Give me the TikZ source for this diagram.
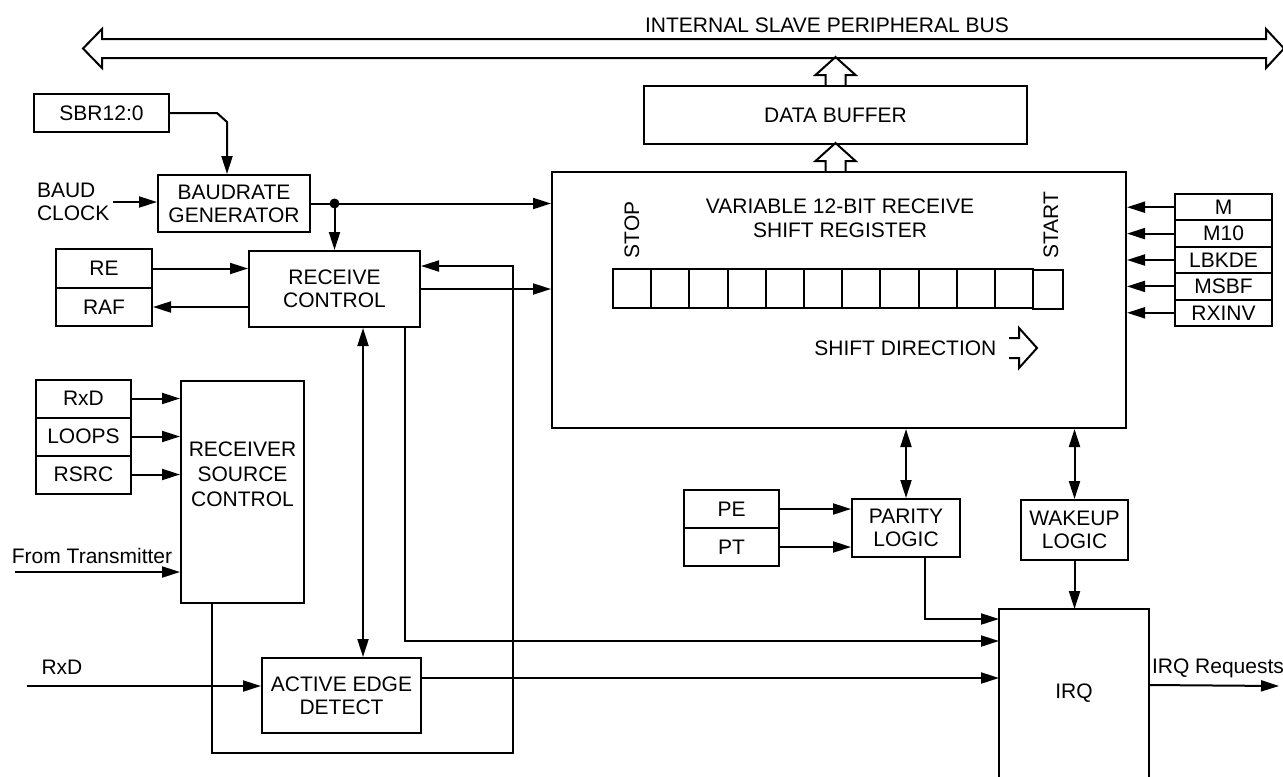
\documentclass[tikz,border=0pt]{standalone}
\usepackage{fontspec}
\setmainfont{Liberation Sans}
\usetikzlibrary{arrows.meta, positioning, calc}

\begin{document}
\begin{tikzpicture}[x=0.5pt, y=-0.5pt, line width=1pt,
    font=\fontsize{10.5}{11.5}\selectfont,
    blk/.style={draw, rectangle, inner sep=0pt, align=center},
    sig/.style={-{Triangle[length=9pt, width=5.5pt]}},
    bidir/.style={{Triangle[length=9pt, width=5.5pt]}-{Triangle[length=9pt, width=5.5pt]}},
    lbl/.style={inner sep=1.5pt, align=left}]
  \useasboundingbox (0,0) rectangle (1283,776);
  \draw (83,48.5) -- (102,29) -- (102,39) -- (1266,39) -- (1266,29) -- (1284,48.5)
    -- (1266,68) -- (1266,58) -- (102,58) -- (102,68) -- cycle;
  \node (buslbl) at (827,25) {INTERNAL SLAVE PERIPHERAL BUS};
  \node[blk, minimum width=67.5pt, minimum height=19pt] (sbr) at (101.5,113) {SBR12:0};
  \node[blk, minimum width=76pt, minimum height=28.5pt] (baud) at (234,203.5) {BAUDRATE\\GENERATOR};
  \node[lbl, anchor=west] (bclk) at (33,202) {BAUD\\CLOCK};
  \node[blk, minimum width=85.5pt, minimum height=38pt] (rxc) at (334.5,289) {RECEIVE\\CONTROL};
  \node[blk, minimum width=48pt, minimum height=19.5pt] (re) at (104,268.5) {RE};
  \node[blk, minimum width=48pt, minimum height=19pt] (raf) at (104,307) {RAF};
  \foreach \nm/\txt [count=\i from 0] in {rxda/RxD, loops/LOOPS, rsrc/RSRC}{%
    \node[blk, minimum width=47.5pt, minimum height=19pt] (\nm) at (83.5,398.5+\i*38) {\txt};}
  \node[blk, minimum width=61.5pt, minimum height=111pt] (rsc) at (242.5,492) {};
  \node[align=center, font=\fontsize{10.5}{12.5}\selectfont] (rsclbl) at (242.5,474) {RECEIVER\\SOURCE\\CONTROL};
  \node (ftx) at (92,556) {From Transmitter};
  \coordinate (ftin) at (15,572);
  \node (rxdtxt) at (62,667) {RxD};
  \coordinate (rxdin) at (27,686);
  \node[blk, minimum width=79.5pt, minimum height=37.5pt] (aed) at (341.5,695.5) {ACTIVE EDGE\\DETECT};
  \node[blk, minimum width=191.5pt, minimum height=29pt] (buf) at (835.5,115) {DATA BUFFER};
  \node[blk, minimum width=287pt, minimum height=128pt] (sreg) at (839,300) {};
  \node[align=center, font=\fontsize{10.5}{12}\selectfont] (srttl) at (840,218) {VARIABLE 12-BIT RECEIVE\\SHIFT REGISTER};
  \node[rotate=90] (stop) at (632,230) {STOP};
  \node[rotate=90] (start) at (1051,225) {START};
  \foreach \i in {0,...,10}{%
    \node[blk, minimum width=19.1pt, minimum height=19.5pt] (c\i) at (632.1+\i*38.2,288.5) {};}
  \node[blk, minimum width=15pt, minimum height=19.5pt] (c11) at (1048,289.5) {};
  \node[anchor=east] (sdir) at (1004,348) {SHIFT DIRECTION};
  \draw (1009,338) -- (1019,338) -- (1019,328) -- (1037,348) -- (1019,368) -- (1019,358) -- (1009,358);
  \foreach \nm/\txt [count=\i from 0] in {m/M, mten/M10, lbkde/LBKDE, msbf/MSBF, rxinv/RXINV}{%
    \node[blk, minimum width=48.5pt, minimum height=13.2pt] (\nm) at (1223.5,207.2+\i*26.4) {\txt};
    \draw[sig] (\nm.west) -- (\nm.west -| sreg.east);}
  \node[blk, minimum width=47.5pt, minimum height=19pt] (pe) at (731.5,509) {PE};
  \node[blk, minimum width=47.5pt, minimum height=19pt] (pt) at (731.5,547) {PT};
  \node[blk, minimum width=54pt, minimum height=29pt] (par) at (906,528) {PARITY\\LOGIC};
  \node[blk, minimum width=53.5pt, minimum height=30pt] (wak) at (1074.5,530) {WAKEUP\\LOGIC};
  \node[minimum width=74pt, minimum height=83pt] (irq) at (1074,693) {IRQ};
  \draw (irq.south west) |- (irq.north east) -- (irq.south east);
  \node (irqreq) at (1218,668) {IRQ Requests};
  \coordinate (irqout) at (1279,686);
  % hollow bus arrows
  \draw ($(buf.north)+(-10,0)$) -- ++(0,-10) -- ++(-10,0) -- ++(20,-18) -- ++(20,18) -- ++(-10,0) -- ++(0,10);
  \coordinate (sb) at (buf.south |- sreg.north);
  \draw ($(sb)+(-10,0)$) -- ++(0,-10) -- ++(-10,0) -- ++(20,-18) -- ++(20,18) -- ++(-10,0) -- ++(0,10);
  % signals
  \coordinate (sbrk) at ($(sbr.east)+(57,9)$);
  \draw[sig] (sbr.east) -- ++(47,0) -- (sbrk) -- (sbrk |- baud.north);
  \draw[sig] (bclk.east) -- (bclk.east -| baud.west);
  \coordinate (tap) at (rxc.north |- baud.east);
  \draw[sig] (baud.east) -- (baud.east -| sreg.west);
  \fill (tap) circle (2.5pt);
  \draw[sig] (tap) -- (rxc.north);
  \draw[sig] (re.east) -- (re.east -| rxc.west);
  \draw[sig] (raf.east -| rxc.west) -- (raf.east);
  \draw[sig] (rxc.east) -- (rxc.east -| sreg.west);
  \draw[sig] ($(rsc.south west)+(32,0)$) |- (513,753) |- ($(rxc.north east)+(0,16)$);
  \draw[sig] ($(rxc.south west)+(157,0)$) |- ($(irq.north west)+(0,32)$);
  \coordinate (vx) at ($(rxc.south west)+(115,0)$);
  \draw[bidir] (vx) -- (vx |- aed.north);
  \foreach \nm in {rxda, loops, rsrc}
    \draw[sig] (\nm.east) -- (\nm.east -| rsc.west);
  \draw[sig] (ftin) -- (ftin -| rsc.west);
  \draw[sig] (rxdin) -- (rxdin -| aed.west);
  \coordinate (aedo) at ($(aed.north east)+(0,21)$);
  \draw[sig] (aedo) -- (aedo -| irq.west);
  \draw[bidir] (par.north |- sreg.south) -- (par.north);
  \draw[bidir] (wak.north |- sreg.south) -- (wak.north);
  \draw[sig] (pe.east) -- (pe.east -| par.west);
  \draw[sig] (pt.east) -- (pt.east -| par.west);
  \coordinate (paro) at ($(par.south west)+(74,0)$);
  \draw[sig] (paro) |- ($(irq.north west)+(0,10)$);
  \draw[sig] (wak.south) -- (wak.south |- irq.north);
  \coordinate (irqo) at ($(irq.north east)+(0,76)$);
  \draw[sig] (irqo) -- (irqout);
\end{tikzpicture}
\end{document}
